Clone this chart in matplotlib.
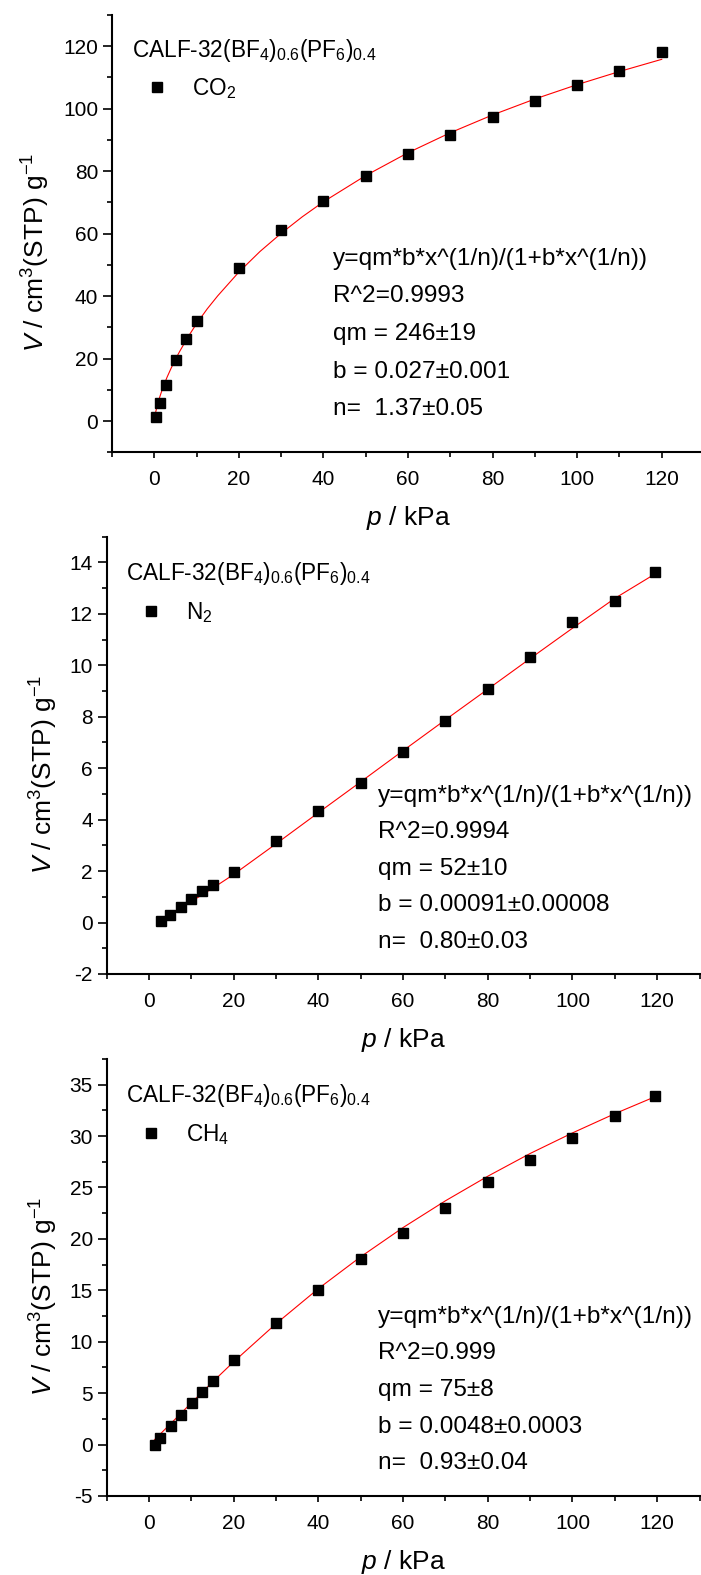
import matplotlib
matplotlib.use('Agg')
import matplotlib.pyplot as plt
from matplotlib import font_manager
from matplotlib.ticker import MultipleLocator


# CO2 isotherm
co2_p = [0.3, 1.3, 2.7, 5.2, 7.6, 10, 20, 30, 40, 50, 60, 70, 80, 90, 100, 110, 120]
co2_v = [1.4, 5.7, 11.5, 19.6, 26.3, 32.0, 49.1, 61.3, 70.6, 78.5, 85.4, 91.7,
         97.2, 102.6, 107.6, 112.2, 118.0]
co2_fit_p = [0.3, 0.6, 1, 1.5, 2, 3, 4, 5, 6, 8, 10, 12.5, 15, 20, 25, 30, 35, 40,
             50, 60, 70, 80, 90, 100, 110, 120]
co2_fit_v = [2.7, 4.5, 6.5, 8.6, 10.6, 14.0, 17.0, 19.8, 22.3, 27.0, 31.2, 35.9,
             40.1, 47.7, 54.3, 60.1, 65.4, 70.2, 78.6, 85.9, 92.3, 98.0, 103.1,
             107.7, 111.9, 115.8]
co2_fit_text = ['y=qm*b*x^(1/n)/(1+b*x^(1/n))', 'R^2=0.9993', 'qm = 246\u00b119',
                'b = 0.027\u00b10.001', 'n=  1.37\u00b10.05']

# N2 isotherm
n2_p = [2.8, 5.0, 7.5, 10, 12.5, 15, 20, 30, 40, 50, 60, 70, 80, 90, 100, 110, 119.5]
n2_v = [0.05, 0.30, 0.62, 0.92, 1.23, 1.46, 1.98, 3.18, 4.34, 5.42, 6.62, 7.84,
        9.07, 10.33, 11.68, 12.48, 13.63]
n2_fit_p = [3, 5, 10, 15, 20, 30, 40, 50, 60, 70, 80, 90, 100, 110, 119.5]
n2_fit_v = [0.17, 0.34, 0.82, 1.33, 1.87, 3.06, 4.27, 5.47, 6.68, 7.88, 9.07,
            10.26, 11.44, 12.6, 13.55]
n2_fit_text = ['y=qm*b*x^(1/n)/(1+b*x^(1/n))', 'R^2=0.9994', 'qm = 52\u00b110',
               'b = 0.00091\u00b10.00008', 'n=  0.80\u00b10.03']

# CH4 isotherm
ch4_p = [1.3, 2.7, 5.1, 7.6, 10.1, 12.6, 15.2, 20, 30, 40, 50, 60, 70, 80, 90,
         100, 110, 119.5]
ch4_v = [0.0, 0.6, 1.8, 2.9, 4.0, 5.1, 6.2, 8.2, 11.8, 15.0, 18.0, 20.6, 23.0,
         25.5, 27.7, 29.8, 31.9, 33.9]
ch4_fit_p = [1.3, 5, 10, 15, 20, 30, 40, 50, 60, 70, 80, 90, 100, 110, 119.5]
ch4_fit_v = [0.47, 1.98, 4.05, 6.08, 8.05, 11.75, 15.16, 18.26, 21.1, 23.7, 26.09,
             28.3, 30.3, 32.17, 33.82]
ch4_fit_text = ['y=qm*b*x^(1/n)/(1+b*x^(1/n))', 'R^2=0.999', 'qm = 75\u00b18',
                'b = 0.0048\u00b10.0003', 'n=  0.93\u00b10.04']

material = r'CALF-32(BF$_4$)$_{0.6}$(PF$_6$)$_{0.4}$'
gas_labels = ['CO$_2$', 'N$_2$', 'CH$_4$']

x_ticks = [0, 20, 40, 60, 80, 100, 120]
y_limits = [(-10, 130), (-2, 15), (-5, 37.5)]
y_major = [20, 2, 5]


installed = {f.name for f in font_manager.fontManager.ttflist}
if 'Liberation Sans Narrow' in installed:
    LABEL_FONT, LABEL_FS, LEG_FS = 'Liberation Sans Narrow', 23, 19.5
else:
    LABEL_FONT, LABEL_FS, LEG_FS = 'Liberation Sans', 19, 16.3

plt.rcParams['font.family'] = 'Liberation Sans'
plt.rcParams['axes.unicode_minus'] = False
plt.rcParams['mathtext.fontset'] = 'custom'
plt.rcParams['mathtext.rm'] = LABEL_FONT
plt.rcParams['mathtext.it'] = LABEL_FONT + ':italic'
plt.rcParams['mathtext.bf'] = LABEL_FONT + ':bold'

fig = plt.figure(figsize=(7.01, 15.75), dpi=100)

rects = [
    [0.1598, 0.7128, 0.8445, 0.2777],
    [0.1522, 0.3816, 0.8457, 0.2777],
    [0.1522, 0.0502, 0.8457, 0.2775],
]
ylabel_x = [-0.101, -0.079, -0.079]
eq_pos = [(0.373, 0.429, 0.086), (0.458, 0.394, 0.0837), (0.458, 0.396, 0.0837)]
leg_pos = [(0.033, 0.950), (0.032, 0.946), (0.032, 0.946)]

panels = [
    (co2_p, co2_v, co2_fit_p, co2_fit_v, co2_fit_text),
    (n2_p, n2_v, n2_fit_p, n2_fit_v, n2_fit_text),
    (ch4_p, ch4_v, ch4_fit_p, ch4_fit_v, ch4_fit_text),
]

for i, (px, py, fx, fy, txt) in enumerate(panels):
    ax = fig.add_axes(rects[i])
    ax.plot(fx, fy, color='red', lw=0.8, zorder=2)
    h, = ax.plot(px, py, 's', color='black', ms=6.5, ls='none', zorder=3)

    ax.set_xlim(-10, 130)
    ax.set_ylim(*y_limits[i])
    ax.set_xticks(x_ticks)
    ax.xaxis.set_minor_locator(MultipleLocator(10))
    ax.yaxis.set_major_locator(MultipleLocator(y_major[i]))
    ax.yaxis.set_minor_locator(MultipleLocator(y_major[i] / 2))

    for s in ['top', 'right']:
        ax.spines[s].set_visible(False)
    for s in ['left', 'bottom']:
        ax.spines[s].set_linewidth(1.5)

    ax.tick_params(axis='y', which='major', direction='out', length=6.5, width=1.2,
                   labelsize=15, pad=3.5)
    ax.tick_params(axis='y', which='minor', direction='out', length=3.5, width=1.2)
    ax.tick_params(axis='x', which='major', direction='out', length=4, width=1.2,
                   labelsize=15, pad=9)
    ax.tick_params(axis='x', which='minor', direction='out', length=3.5, width=1.2)

    ax.set_xlabel(r'$\it{p}$ / kPa', fontsize=LABEL_FS, family=LABEL_FONT)
    ax.set_ylabel(r'$\it{V}$ / cm$^3$(STP) g$^{-1}$', fontsize=LABEL_FS, family=LABEL_FONT)
    ax.xaxis.set_label_coords(0.5, -0.118)
    ax.yaxis.set_label_coords(ylabel_x[i], 0.456)

    ax.legend([h], [gas_labels[i]], title=material, loc='upper left',
              bbox_to_anchor=leg_pos[i], frameon=False, alignment='left',
              prop={'family': LABEL_FONT, 'size': LEG_FS},
              title_fontproperties={'family': LABEL_FONT, 'size': LEG_FS},
              handlelength=2.25, handletextpad=0.4, labelspacing=0.55,
              borderpad=0, borderaxespad=0, markerscale=1.1)

    ex, ey, dy = eq_pos[i]
    for k, line in enumerate(txt):
        ax.text(ex, ey - k * dy, line, transform=ax.transAxes, fontsize=17.6,
                va='baseline', ha='left')

fig.savefig('out.png', dpi=100)
